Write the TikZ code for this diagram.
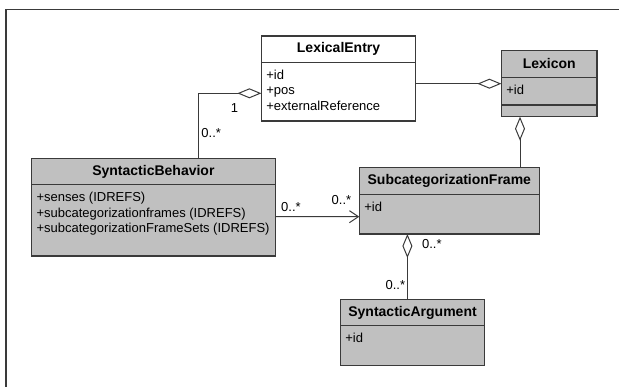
\documentclass[tikz,border=0pt]{standalone}
\usepackage{fontspec}
\setmainfont{Liberation Sans}
\usetikzlibrary{arrows.meta,positioning}
\definecolor{umlgray}{HTML}{C0C0C0}
\definecolor{linegray}{HTML}{3A3A3A}

\begin{document}
\begin{tikzpicture}[x=1pt, y=-1pt,
  every node/.style={font=\fontsize{13}{15.5}\selectfont, inner sep=0pt, outer sep=0pt},
  cls/.style={draw=linegray, line width=1.2pt, fill=umlgray},
  ttl/.style={font=\fontsize{14}{15.5}\selectfont\bfseries, minimum height=26.5pt, below=0pt of #1},
  attr/.style={align=left, anchor=north west},
  sep/.style={draw=linegray, line width=1.2pt},
  assoc/.style={draw=linegray, line width=1pt},
  diam/.style={{Diamond[open, length=24pt, width=10pt]}-},
  nav/.style={-{Straight Barb[length=9pt, width=12pt]}},
  mult/.style={}]
  \useasboundingbox (0,0) rectangle (619,387);
  \draw[line width=1.2pt, linegray] (619,9.3) -| (6,387);

  % classes
  \node[cls, fill=white, minimum width=154.3pt, minimum height=85pt] (entry) at (338.55,78.5) {};
  \node[ttl=entry.north, minimum width=154.3pt] (entry-t) {LexicalEntry};
  \draw[sep] (entry-t.south west) -- (entry-t.south east);
  \node[attr] (entry-a) at ([shift={(5,7.5)}]entry-t.south west) {+id\\+pos\\+externalReference};

  \node[cls, minimum width=95.6pt, minimum height=66pt] (lexicon) at (549.2,83.7) {};
  \node[ttl=lexicon.north, minimum width=95.6pt] (lexicon-t) {Lexicon};
  \draw[sep] (lexicon-t.south west) -- (lexicon-t.south east);
  \draw[sep] ([yshift=-54.3pt]lexicon.north west) -- ([yshift=-54.3pt]lexicon.north east);
  \node[attr] (lexicon-a) at ([shift={(5,7.5)}]lexicon-t.south west) {+id};

  \node[cls, minimum width=243.6pt, minimum height=97.7pt] (behav) at (153.4,207.15) {};
  \node[ttl=behav.north, minimum width=243.6pt] (behav-t) {SyntacticBehavior};
  \draw[sep] (behav-t.south west) -- (behav-t.south east);
  \node[attr] (behav-a) at ([shift={(5,7.5)}]behav-t.south west)
    {+senses (IDREFS)\\+subcategorizationframes (IDREFS)\\+subcategorizationFrameSets (IDREFS)};

  \node[cls, minimum width=180pt, minimum height=66.3pt] (frame) at (449.3,200.85) {};
  \node[ttl=frame.north, minimum width=180pt] (frame-t) {SubcategorizationFrame};
  \draw[sep] (frame-t.south west) -- (frame-t.south east);
  \node[attr] (frame-a) at ([shift={(5,7.5)}]frame-t.south west) {+id};

  \node[cls, minimum width=144.5pt, minimum height=66.4pt] (arg) at (412.55,332.5) {};
  \node[ttl=arg.north, minimum width=144.5pt] (arg-t) {SyntacticArgument};
  \draw[sep] (arg-t.south west) -- (arg-t.south east);
  \node[attr] (arg-a) at ([shift={(5,7.5)}]arg-t.south west) {+id};

  % associations
  \draw[assoc, diam] ([yshift=-14.8pt]entry.west) -| ([xshift=44.8pt]behav.north);
  \draw[assoc, diam] (lexicon.west) -- (lexicon.west -| entry.east);
  \draw[assoc, diam] ([xshift=-29.2pt]lexicon.south) -- ([xshift=70.7pt]frame.north);
  \draw[assoc, nav] ([yshift=-9.5pt]behav.east) -- ([yshift=-15.85pt]frame.west);
  \draw[assoc, diam] ([xshift=-41.9pt]frame.south) -- ([xshift=-5.15pt]arg.north);

  % multiplicities
  \node[mult] (m-entry) at (234.5,108.3) {1};
  \node[mult] (m-behav) at (211.2,133.3) {0..*};
  \node[mult] (m-src) at (291,206.7) {0..*};
  \node[mult] (m-dst) at (341.5,200) {0..*};
  \node[mult] (m-whole) at (431.8,244.3) {0..*};
  \node[mult] (m-part) at (395.3,285) {0..*};
\end{tikzpicture}
\end{document}
